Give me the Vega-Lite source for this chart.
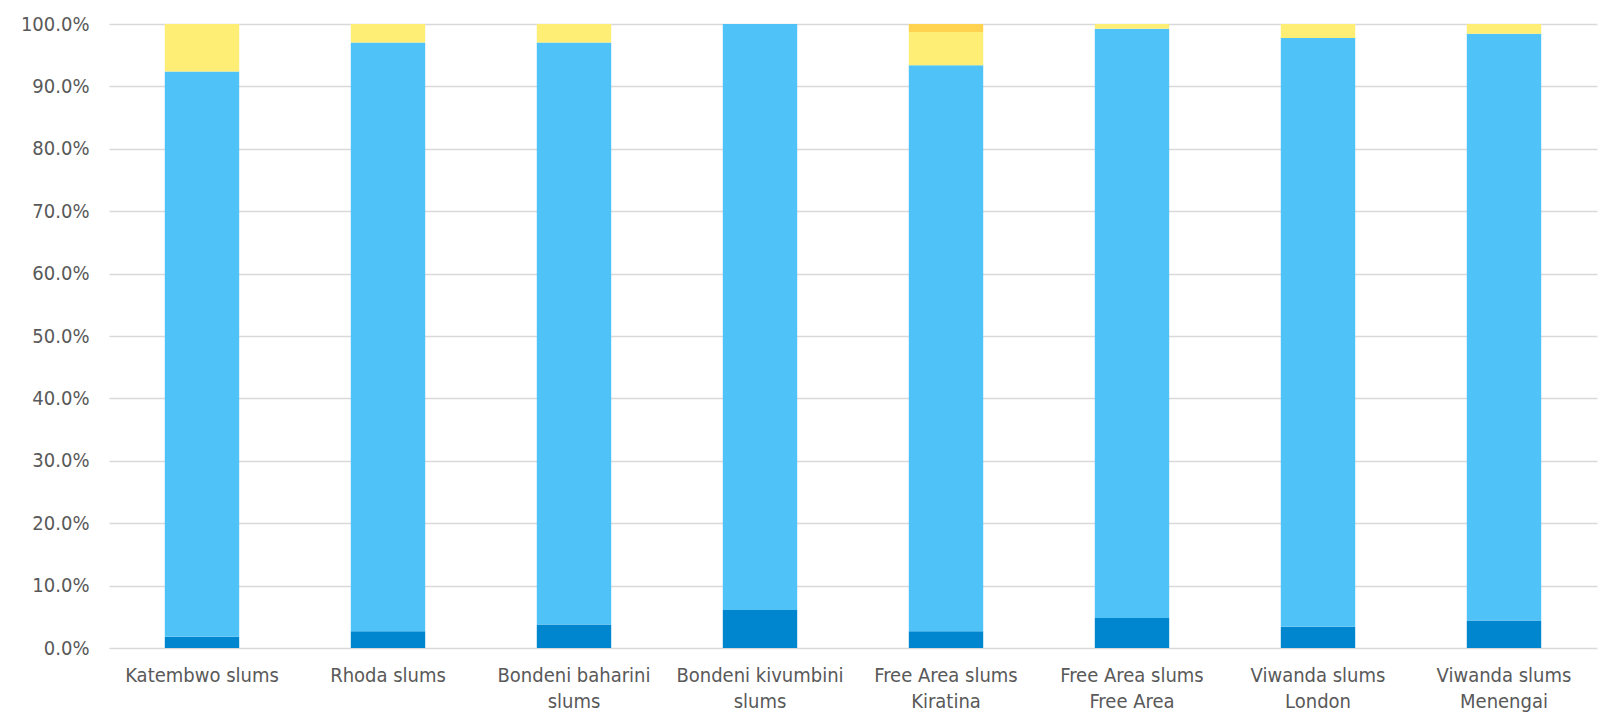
{
  "$schema": "https://vega.github.io/schema/vega-lite/v6.json",
  "width": 1488,
  "height": 624,
  "autosize": {"type": "none"},
  "padding": {"left": 109, "top": 24, "right": 7, "bottom": 71},
  "background": "white",
  "data": {
    "values": [
      {"site": "Katembwo slums", "series": "Series A", "share": 1.8},
      {"site": "Katembwo slums", "series": "Series B", "share": 90.6},
      {"site": "Katembwo slums", "series": "Series C", "share": 7.6},
      {"site": "Katembwo slums", "series": "Series D", "share": 0},
      {"site": "Rhoda slums", "series": "Series A", "share": 2.7},
      {"site": "Rhoda slums", "series": "Series B", "share": 94.35},
      {"site": "Rhoda slums", "series": "Series C", "share": 2.95},
      {"site": "Rhoda slums", "series": "Series D", "share": 0},
      {"site": "Bondeni baharini slums", "series": "Series A", "share": 3.75},
      {"site": "Bondeni baharini slums", "series": "Series B", "share": 93.3},
      {"site": "Bondeni baharini slums", "series": "Series C", "share": 2.95},
      {"site": "Bondeni baharini slums", "series": "Series D", "share": 0},
      {"site": "Bondeni kivumbini slums", "series": "Series A", "share": 6.1},
      {"site": "Bondeni kivumbini slums", "series": "Series B", "share": 93.9},
      {"site": "Bondeni kivumbini slums", "series": "Series C", "share": 0},
      {"site": "Bondeni kivumbini slums", "series": "Series D", "share": 0},
      {"site": "Free Area slums Kiratina", "series": "Series A", "share": 2.7},
      {"site": "Free Area slums Kiratina", "series": "Series B", "share": 90.7},
      {"site": "Free Area slums Kiratina", "series": "Series C", "share": 5.3},
      {"site": "Free Area slums Kiratina", "series": "Series D", "share": 1.3},
      {"site": "Free Area slums Free Area", "series": "Series A", "share": 4.8},
      {"site": "Free Area slums Free Area", "series": "Series B", "share": 94.45},
      {"site": "Free Area slums Free Area", "series": "Series C", "share": 0.75},
      {"site": "Free Area slums Free Area", "series": "Series D", "share": 0},
      {"site": "Viwanda slums London", "series": "Series A", "share": 3.4},
      {"site": "Viwanda slums London", "series": "Series B", "share": 94.35},
      {"site": "Viwanda slums London", "series": "Series C", "share": 2.25},
      {"site": "Viwanda slums London", "series": "Series D", "share": 0},
      {"site": "Viwanda slums Menengai", "series": "Series A", "share": 4.4},
      {"site": "Viwanda slums Menengai", "series": "Series B", "share": 94.05},
      {"site": "Viwanda slums Menengai", "series": "Series C", "share": 1.55},
      {"site": "Viwanda slums Menengai", "series": "Series D", "share": 0}
    ]
  },
  "mark": {"type": "bar"},
  "encoding": {
    "x": {
      "field": "site",
      "type": "nominal",
      "sort": null,
      "scale": {"paddingInner": 0.6, "paddingOuter": 0.3},
      "axis": {
        "title": null,
        "domain": false,
        "ticks": false,
        "labelAngle": 0,
        "labelPadding": 17,
        "labelLineHeight": 26,
        "labelExpr": "indexof(datum.label, 'slums ') >= 0 ? [substring(datum.label, 0, indexof(datum.label, 'slums ') + 5), substring(datum.label, indexof(datum.label, 'slums ') + 6)] : (length(datum.label) > 16 ? [substring(datum.label, 0, length(datum.label) - 6), 'slums'] : datum.label)"
      }
    },
    "y": {
      "field": "share",
      "type": "quantitative",
      "stack": "normalize",
      "scale": {"domain": [0, 1]},
      "axis": {
        "title": null,
        "values": [0, 0.1, 0.2, 0.3, 0.4, 0.5, 0.6, 0.7, 0.8, 0.9, 1],
        "labelExpr": "format(datum.value, '.1%')",
        "domain": false,
        "ticks": false,
        "labelPadding": 20,
        "grid": true
      }
    },
    "color": {
      "field": "series",
      "type": "nominal",
      "scale": {
        "domain": ["Series A", "Series B", "Series C", "Series D"],
        "range": ["#0086CF", "#4FC2F7", "#FFEE75", "#FFD24F"]
      },
      "legend": null
    },
    "order": {"field": "series", "sort": "ascending"}
  },
  "config": {
    "view": {"stroke": null},
    "axis": {
      "labelFont": "DejaVu Sans Condensed, DejaVu Sans",
      "labelFontSize": 20,
      "labelColor": "#595959",
      "gridColor": "#d9d9d9",
      "gridWidth": 1.5
    }
  }
}
